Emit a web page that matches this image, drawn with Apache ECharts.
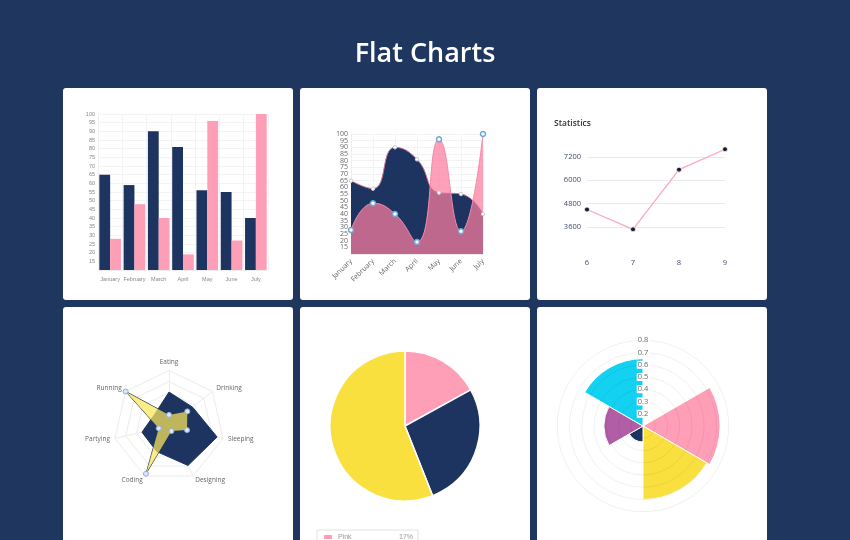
<!DOCTYPE html>
<html>
<head>
<meta charset="utf-8">
<title>Flat Charts</title>
<script src="https://cdn.jsdelivr.net/npm/echarts@6/dist/echarts.min.js"></script>
<style>
    html, body { margin: 0; padding: 0; background: #1f365f; }
    #main { width: 850px; height: 540px; }
</style>
</head>
<body>
<div id="main"></div>
<script>
// 数据
const months = ['January', 'February', 'March', 'April', 'May', 'June', 'July']
const navyData = [65, 59, 90, 81, 56, 55, 40]
const pinkData = [28, 48, 40, 19, 96, 27, 100]
const areaTopTick = '100'

const statLabels = ['6', '7', '8', '9']
const statValues = [4500, 3480, 6550, 7600]

// 雷达图（顺时针顺序）
const radarNames = ['Eating', 'Drinking', 'Sleeping', 'Designing', 'Coding', 'Partying', 'Running']
const radarNavy = [65, 59, 90, 81, 56, 55, 40]
const radarYellow = [28, 48, 40, 19, 96, 27, 100]

const pieNames = ['Pink', 'Navy', 'Yellow']
const pieValues = [17, 27, 56]

const polarNames = ['Grey', 'Pink', 'Yellow', 'Navy', 'Purple', 'Cyan']
const polarValues = [0.1, 0.73, 0.70, 0.23, 0.42, 0.65]

// 颜色
const NAVY = '#1d3461'
const PINK = '#ff9fb7'
const YELLOW = '#f9e03f'
const pieColors = [PINK, NAVY, YELLOW]
const polarColors = ['#cccccc', PINK, YELLOW, NAVY, '#b25ea6', '#13d1f1']

// echarts 雷达是逆时针排列，这里翻转成顺时针
const ccw = arr => [arr[0]].concat(arr.slice(1).reverse())

var chartDom = document.getElementById('main')
var myChart = echarts.init(chartDom)
var option

// 白色卡片
function card(x, y, w, h) {
    return {
        type: 'rect',
        z: -100,
        shape: { x: x, y: y, width: w, height: h, r: 3 },
        style: { fill: '#ffffff' }
    }
}

const tiny = { fontFamily: 'Liberation Sans Narrow, Liberation Sans, sans-serif', fontSize: 5.5, color: '#888' }
const small = { fontFamily: 'Open Sans, sans-serif', fontSize: 7, color: '#666' }
const stat = { fontFamily: 'Open Sans, sans-serif', fontSize: 7.5, color: '#3d4a6b' }

option = {
    backgroundColor: '#1f365f',
    animation: false,
    graphic: [
        card(63, 88, 230, 212), card(300, 88, 230, 212), card(537, 88, 230, 212),
        card(63, 307, 230, 260), card(300, 307, 230, 260), card(537, 307, 230, 260)
    ],
    title: [
        {
            text: 'Flat Charts', left: 'center', top: 41, padding: 0,
            textStyle: { color: '#fff', fontFamily: 'Open Sans, sans-serif', fontSize: 27, fontWeight: 600 }
        },
        {
            text: 'Statistics', left: 554, top: 119, padding: 0,
            textStyle: { color: '#333', fontFamily: 'Open Sans, sans-serif', fontSize: 8.5, fontWeight: 600 }
        }
    ],
    legend: {
        data: pieNames,
        orient: 'vertical',
        left: 317, top: 530, width: 100, height: 60,
        padding: [3, 5],
        borderColor: '#e2e2e2', borderWidth: 1,
        itemWidth: 10, itemHeight: 6,
        selectedMode: false,
        formatter: function (name) {
            return '{n|' + name + '}{v|' + pieValues[pieNames.indexOf(name)] + '%}'
        },
        textStyle: {
            fontSize: 7, color: '#999',
            rich: { n: { width: 55, fontSize: 7, color: '#999' }, v: { width: 20, align: 'right', fontSize: 7, color: '#999' } }
        }
    },
    grid: [
        { left: 98, top: 114, width: 170, height: 156 },
        { left: 351, top: 134, width: 132, height: 120 },
        { left: 587, top: 157, width: 138, height: 70 }
    ],
    xAxis: [
        {
            gridIndex: 0, type: 'category', data: months,
            axisLine: { lineStyle: { color: '#eee' } },
            axisTick: { show: false },
            splitLine: { show: true, lineStyle: { color: '#f3f3f3' } },
            axisLabel: Object.assign({ margin: 6, interval: 0 }, tiny)
        },
        {
            gridIndex: 1, type: 'category', data: months, boundaryGap: false,
            axisLine: { lineStyle: { color: '#eee' } },
            axisTick: { show: false },
            splitLine: { show: true, lineStyle: { color: '#f3f3f3' } },
            axisLabel: Object.assign({ rotate: 45, margin: 6, interval: 0 }, small)
        },
        {
            gridIndex: 2, type: 'category', data: statLabels, boundaryGap: false,
            axisLine: { show: false },
            axisTick: { show: false },
            splitLine: { show: false },
            axisLabel: Object.assign({ margin: 32 }, stat)
        }
    ],
    yAxis: [
        {
            gridIndex: 0, type: 'value', min: 10, max: 100, interval: 5,
            axisLine: { show: true, lineStyle: { color: '#eee' } },
            axisTick: { show: false },
            splitLine: { lineStyle: { color: '#f3f3f3' } },
            axisLabel: Object.assign({ showMinLabel: false, showMaxLabel: true, margin: 3 }, tiny)
        },
        {
            gridIndex: 1, type: 'value', min: 10, max: 100, interval: 5,
            // 顶部刻度 100 与 95 太挤会被自动隐藏，用轴名补上
            name: areaTopTick, nameLocation: 'end', nameGap: 0,
            nameTextStyle: Object.assign({ align: 'right', verticalAlign: 'middle', padding: [0, 3, 0, 0] }, small),
            axisLine: { show: true, lineStyle: { color: '#eee' } },
            axisTick: { show: false },
            splitLine: { lineStyle: { color: '#f3f3f3' } },
            axisLabel: Object.assign({ showMinLabel: false, showMaxLabel: false, margin: 3 }, small)
        },
        {
            gridIndex: 2, type: 'value', min: 3600, max: 7200, interval: 1200,
            axisLine: { show: false },
            axisTick: { show: false },
            splitLine: { lineStyle: { color: '#e9e9ee' } },
            axisLabel: Object.assign({ margin: 6, formatter: v => String(v) }, stat)
        }
    ],
    radar: {
        center: [169, 426],
        radius: 55.5,
        shape: 'polygon',
        splitNumber: 5,
        indicator: ccw(radarNames).map(n => ({ name: n, min: 10, max: 100 })),
        axisName: { color: '#666', fontSize: 6.5, fontFamily: 'Open Sans, sans-serif' },
        nameGap: 5,
        splitArea: { show: false },
        splitLine: { lineStyle: { color: '#ececec' } },
        axisLine: { lineStyle: { color: '#ececec' } }
    },
    polar: { center: [643, 426], radius: 85.7 },
    angleAxis: {
        type: 'category', data: polarNames, startAngle: 90,
        axisLine: { show: false }, axisTick: { show: false },
        axisLabel: { show: false }, splitLine: { show: false }
    },
    radiusAxis: {
        min: 0.1, max: 0.8, interval: 0.1, z: 10,
        axisLine: { show: false }, axisTick: { show: false },
        splitLine: { show: true, lineStyle: { color: 'rgba(0,0,0,0.06)' } },
        axisLabel: {
            showMinLabel: false, align: 'center', margin: 0,
            fontSize: 7.5, color: '#666', fontFamily: 'Open Sans, sans-serif',
            backgroundColor: '#fff', padding: [0, 1]
        }
    },
    series: [
        {
            name: 'Bar A', type: 'bar', xAxisIndex: 0, yAxisIndex: 0, data: navyData,
            itemStyle: { color: NAVY }, barCategoryGap: '11%', barGap: '0%'
        },
        {
            name: 'Bar B', type: 'bar', xAxisIndex: 0, yAxisIndex: 0, data: pinkData,
            itemStyle: { color: PINK }, barCategoryGap: '11%', barGap: '0%'
        },
        {
            name: 'Area A', type: 'line', xAxisIndex: 1, yAxisIndex: 1, data: navyData,
            smooth: 0.5,
            lineStyle: { color: '#d47090', width: 1 },
            areaStyle: { color: NAVY, opacity: 1 },
            symbol: 'circle', symbolSize: 3.5,
            itemStyle: { color: '#fff', borderColor: '#c9c9d6', borderWidth: 1 }
        },
        {
            name: 'Area B', type: 'line', xAxisIndex: 1, yAxisIndex: 1, data: pinkData,
            smooth: 0.5,
            lineStyle: { color: '#f58aa8', width: 1 },
            areaStyle: { color: 'rgba(252,125,160,0.72)', opacity: 1 },
            symbol: 'circle', symbolSize: 5,
            itemStyle: { color: '#fff', borderColor: '#6fa8d0', borderWidth: 1.5 }
        },
        {
            name: 'Statistics', type: 'line', xAxisIndex: 2, yAxisIndex: 2, data: statValues,
            clip: false,
            lineStyle: { color: '#ffa5bd', width: 1.3 },
            symbol: 'circle', symbolSize: 5,
            itemStyle: { color: '#1b1b3a', borderColor: '#fff', borderWidth: 0.8 }
        },
        {
            name: 'Radar', type: 'radar',
            data: [
                {
                    value: ccw(radarNavy), name: 'Radar A', symbol: 'none',
                    lineStyle: { color: NAVY, width: 1 },
                    areaStyle: { color: NAVY, opacity: 1 }
                },
                {
                    value: ccw(radarYellow), name: 'Radar B', symbol: 'circle', symbolSize: 5,
                    itemStyle: { color: '#dce7f4', borderColor: '#8fb0d8', borderWidth: 1 },
                    lineStyle: { color: NAVY, width: 1 },
                    areaStyle: { color: 'rgba(252,232,90,0.72)', opacity: 1 }
                }
            ]
        },
        {
            name: 'Pie', type: 'pie',
            center: [405, 426], radius: 75,
            startAngle: 90, clockwise: true,
            label: { show: false }, labelLine: { show: false },
            itemStyle: { borderColor: '#fff', borderWidth: 1.5 },
            data: pieNames.map((n, i) => ({ name: n, value: pieValues[i], itemStyle: { color: pieColors[i] } }))
        },
        {
            name: 'Polar', type: 'bar', coordinateSystem: 'polar',
            barCategoryGap: '0%',
            itemStyle: { borderColor: '#fff', borderWidth: 1 },
            data: polarValues.map((v, i) => ({ value: v, itemStyle: { color: polarColors[i] } }))
        }
    ]
}

option && myChart.setOption(option)
</script>
</body>
</html>
